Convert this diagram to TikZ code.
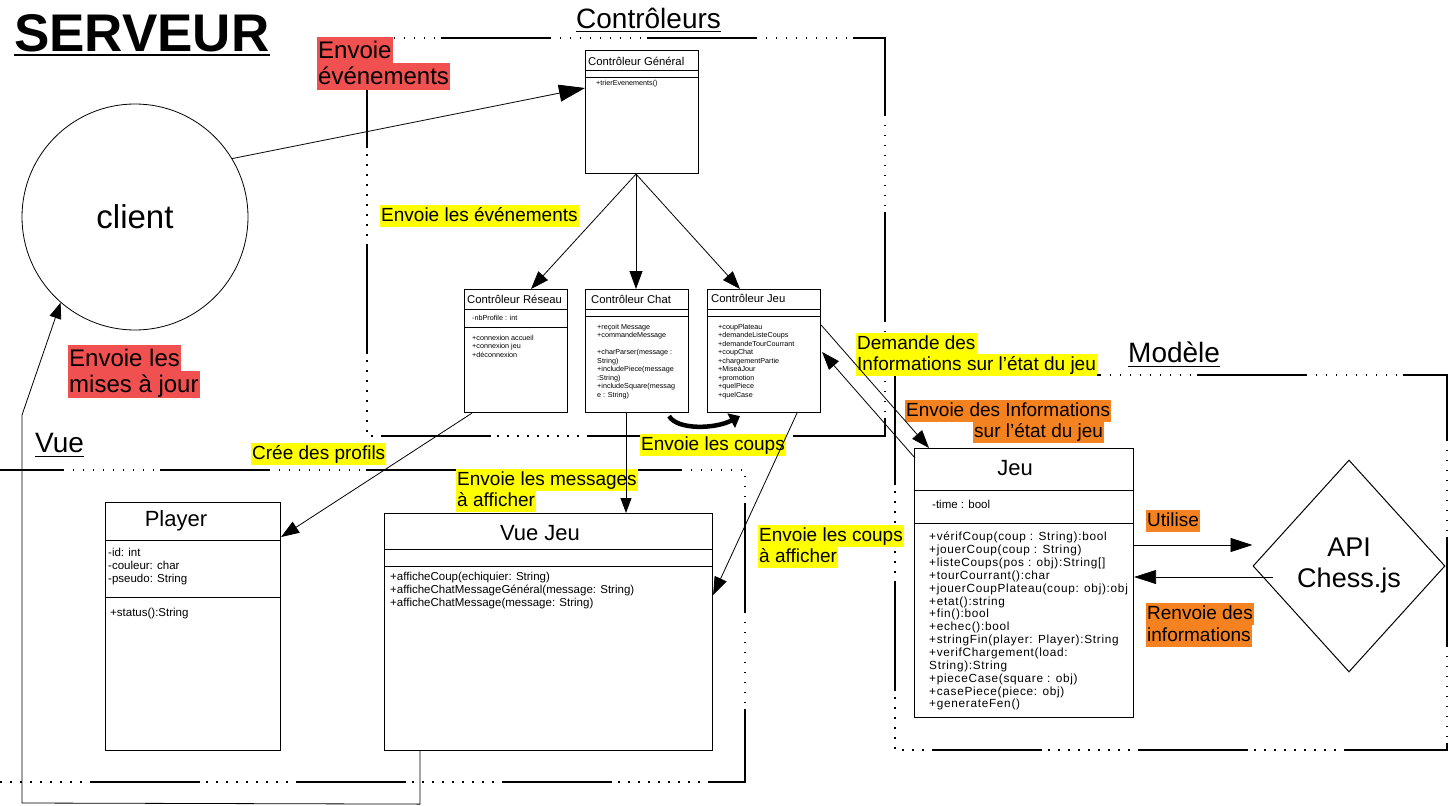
\documentclass[tikz,border=0pt]{standalone}
\usepackage{fontspec}
\setmainfont{Liberation Sans}
\newfontfamily\jeufont[LetterSpace=6]{Liberation Sans}
\usetikzlibrary{arrows.meta,calc,shapes.geometric}
\definecolor{hly}{HTML}{FFFF00}
\definecolor{hlr}{HTML}{F05050}
\definecolor{hlo}{HTML}{F58220}
\newcommand\myfs[2]{\fontsize{#1}{#2}\selectfont}
\begin{document}
\begin{tikzpicture}[x=1pt,y=-1pt,
 frame/.style={line width=1.1pt, dash pattern=on 110pt off 6pt on 1.5pt off 8.5pt on 1.5pt off 8.5pt on 1.5pt off 8.5pt on 1.5pt off 8.5pt on 1.5pt off 8.5pt on 1.5pt off 8.5pt on 1.5pt off 8.5pt on 1.5pt off 8.5pt on 1.5pt off 8.5pt},
 umlbox/.style={draw, line width=1.1pt, anchor=north west, inner sep=0pt},
 conn/.style={line width=0.8pt, -{Triangle[length=18pt,width=13pt]}},
 ylab/.style={anchor=north west, inner xsep=1pt, inner ysep=0pt, text height=16.5pt, text depth=5pt, fill=hly, font=\myfs{19}{22}},
 olab/.style={anchor=north west, inner xsep=1pt, inner ysep=0pt, text height=16.5pt, text depth=5pt, fill=hlo, font=\myfs{19}{22}},
 rlab/.style={anchor=north west, inner xsep=1pt, inner ysep=0pt, text height=21pt, text depth=5.5pt, fill=hlr, font=\myfs{24}{27}},
 umltiny/.style={anchor=north west, inner sep=0pt, align=left, font=\myfs{7.2}{8.5}},
 umlsmall/.style={anchor=north west, inner sep=0pt, align=left, font=\myfs{11.5}{13}},
 umljeu/.style={anchor=north west, inner sep=0pt, align=left, font=\jeufont\myfs{11.8}{12.85}},
 btitle/.style={anchor=north west, inner sep=0pt, font=\myfs{11.3}{13}},
 ctitle/.style={inner sep=0pt, font=\myfs{22}{26}},
 sect/.style={inner sep=0pt, anchor=base west, font=\myfs{28}{32}},
 uline/.style={line width=1pt},
]
\useasboundingbox (0,0) rectangle (1449,806);
\fill[white] (0,0) rectangle (1449,806);

% frames
\draw[frame] (367,38) rectangle (885,436);
\draw[frame] (-10,470) rectangle (745,782);
\draw[frame] (895,375) rectangle (1447,750);

% section titles
\node[sect, font=\myfs{53}{60}\bfseries] (serveur) at (14,51) {SERVEUR};
\draw[line width=2.6pt] ($(serveur.base west)+(0,4)$) -- ($(serveur.base east)+(0,4)$);
\node[sect] (tctrl) at (576,28) {Contrôleurs};
\draw[uline] ($(tctrl.base west)+(0,3)$) -- ($(tctrl.base east)+(0,3)$);
\node[sect] (tvue) at (35,452) {Vue};
\draw[uline] ($(tvue.base west)+(0,4)$) -- ($(tvue.base east)+(0,4)$);
\node[sect] (tmod) at (1128,362) {Modèle};
\draw[uline] ($(tmod.base west)+(0,4)$) -- ($(tmod.base east)+(0,4)$);

% client
\node[draw, circle, minimum size=226pt, inner sep=0pt, line width=0.8pt, font=\myfs{33}{38}] (client) at (135,217) {client};

% labels
\node[rlab] (l1a) at (317,37) {Envoie};
\node[rlab] (l1b) at (317,63) {événements};
\node[rlab] (l2a) at (68,345) {Envoie les};
\node[rlab] (l2b) at (68,371) {mises à jour};
\node[ylab] (l3) at (380,205) {Envoie les événements};
\node[ylab] (l4) at (251,443) {Crée des profils};
\node[ylab] (l5a) at (456,469) {Envoie les messages};
\node[ylab] (l5b) at (456,490) {à afficher};
\node[ylab] (l6) at (640,434) {Envoie les coups};
\node[ylab] (l7a) at (758,525) {Envoie les coups};
\node[ylab] (l7b) at (758,546) {à afficher};
\node[ylab] (l8a) at (856,333) {Demande des};
\node[ylab] (l8b) at (856,354) {Informations sur l’état du jeu};
\node[olab] (l9a) at (905,400) {Envoie des Informations\ };
\node[olab] (l9b) at (973,421) {sur l’état du jeu};
\node[olab] (l10) at (1146,510) {Utilise};
\node[olab] (l11a) at (1146,603) {Renvoie des\ };
\node[olab] (l11b) at (1146,625) {informations};

% boxes
\node[umlbox, minimum width=113pt, minimum height=123pt] (cg) at (585,50) {};
\draw[line width=1pt] ($(cg.north west)+(0,20)$) -- ++(113,0) ($(cg.north west)+(0,27)$) -- ++(113,0);
\node[btitle] (cgt) at (588,57) {Contrôleur Général};
\node[umltiny] (cgm) at (596,80) {+trierEvenements()};

\node[umlbox, minimum width=103pt, minimum height=123pt] (res) at (464,289) {};
\draw[line width=1pt] ($(res.north west)+(0,20)$) -- ++(103,0) ($(res.north west)+(0,38)$) -- ++(103,0);
\node[btitle] (rest) at (467,295) {Contrôleur Réseau};
\node[umltiny] (resa) at (472,315) {-nbProfile : int};
\node[umltiny] (resm) at (472,335) {+connexion accueil\\+connexion jeu\\+déconnexion};

\node[umlbox, minimum width=103pt, minimum height=123pt] (chat) at (585,289) {};
\draw[line width=1pt] ($(chat.north west)+(0,20)$) -- ++(103,0) ($(chat.north west)+(0,27)$) -- ++(103,0);
\node[btitle] (chatt) at (591,295) {Contrôleur Chat};
\node[umltiny] (chatm) at (597,324) {+reçoit Message\\+commandeMessage\\[8.5pt]+charParser(message :\\String)\\+includePiece(message\\:String)\\+includeSquare(messag\\e : String)};

\node[umlbox, minimum width=113pt, minimum height=123pt] (jc) at (707,289) {};
\draw[line width=1pt] ($(jc.north west)+(0,20)$) -- ++(113,0) ($(jc.north west)+(0,27)$) -- ++(113,0);
\node[btitle] (jct) at (711,294) {Contrôleur Jeu};
\node[umltiny] (jcm) at (718,324) {+coupPlateau\\+demandeListeCoups\\+demandeTourCourrant\\+coupChat\\+chargementPartie\\+MiseàJour\\+promotion\\+quelPiece\\+quelCase};

\node[umlbox, minimum width=175pt, minimum height=248pt] (pl) at (105,502) {};
\draw[line width=1pt] ($(pl.north west)+(0,38)$) -- ++(175,0) ($(pl.north west)+(0,95)$) -- ++(175,0);
\node[ctitle] (plt) at (176,521) {Player};
\node[umlsmall] (pla) at (108,548) {-id: int\\-couleur: char\\-pseudo: String};
\node[umlsmall] (plm) at (110,608) {+status():String};

\node[umlbox, minimum width=328pt, minimum height=237pt] (vj) at (384,513) {};
\draw[line width=1pt] ($(vj.north west)+(0,36)$) -- ++(328,0) ($(vj.north west)+(0,53)$) -- ++(328,0);
\node[ctitle] (vjt) at (540,533) {Vue Jeu};
\node[umlsmall] (vjm) at (390,572) {+afficheCoup(echiquier: String)\\+afficheChatMessageGénéral(message: String)\\+afficheChatMessage(message: String)};

\node[umlbox, minimum width=219pt, minimum height=269pt] (jeu) at (914,448) {};
\draw[line width=1pt] ($(jeu.north west)+(0,42)$) -- ++(219,0) ($(jeu.north west)+(0,75)$) -- ++(219,0);
\node[ctitle] (jeut) at (1015,468) {Jeu};
\node[umlsmall] (jeua) at (932,500) {-time : bool};
\node[umljeu] (jeum) at (929,532) {+vérifCoup(coup : String):bool\\+jouerCoup(coup : String)\\+listeCoups(pos : obj):String[]\\+tourCourrant():char\\+jouerCoupPlateau(coup: obj):obj\\+etat():string\\+fin():bool\\+echec():bool\\+stringFin(player: Player):String\\+verifChargement(load:\\String):String\\+pieceCase(square : obj)\\+casePiece(piece: obj)\\+generateFen()};

\node[draw, diamond, line width=1pt, minimum width=192pt, minimum height=212pt, inner sep=0pt, align=center, font=\myfs{27}{31}] (api) at (1349,566) {API\\Chess.js};

% connectors
\draw[conn, -{Triangle[length=26pt,width=17pt]}] (client.31) -- ($(cg.north west)+(0,38)$);
\draw[conn] ($(cg.south west)+(51,0)$) coordinate (g0) -- ($(res.north west)+(67,0)$);
\draw[conn] (g0) -- (g0 |- chat.north);
\draw[conn] (g0) -- ($(jc.north west)+(33,0)$);
\draw[conn] ($(res.south west)+(8,0)$) -- ($(pl.north east)+(0,35)$);
\draw[conn, -{Triangle[length=15pt,width=11pt]}] ($(chat.south west)+(41,0)$) coordinate (c1) -- (c1 |- vj.north);
\draw[line width=4.5pt, -{Triangle[length=10pt,width=16pt]}] ($(chat.south east)+(-20,3)$) .. controls ($(chat.south east)+(-12,17)$) and ($(jc.south west)+(8,16)$) .. ($(jc.south west)+(33,3)$);
\draw[conn] ($(jc.south west)+(90,0)$) -- ($(vj.north east)+(0,82)$);
\draw[conn] ($(jc.north east)+(0,36)$) -- ($(jeu.north west)+(15,0)$);
\draw[conn] ($(jeu.north west)+(1,10)$) -- ($(jc.north east)+(1,63)$);
\draw[conn, -{Triangle[length=22pt,width=14pt]}] ($(jeu.north east)+(0,97)$) coordinate (u1) -- (u1 -| api.west);
\draw[conn, -{Triangle[length=22pt,width=14pt]}] ($(api.west)+(20,11)$) coordinate (u2) -- (u2 -| jeu.east);
\draw[conn, -{Triangle[length=16pt,width=12pt]}] ($(vj.south west)+(36,0)$) -- ++(0,53) -- (22,803) -- (22,415) -- (client.229);
\end{tikzpicture}
\end{document}
